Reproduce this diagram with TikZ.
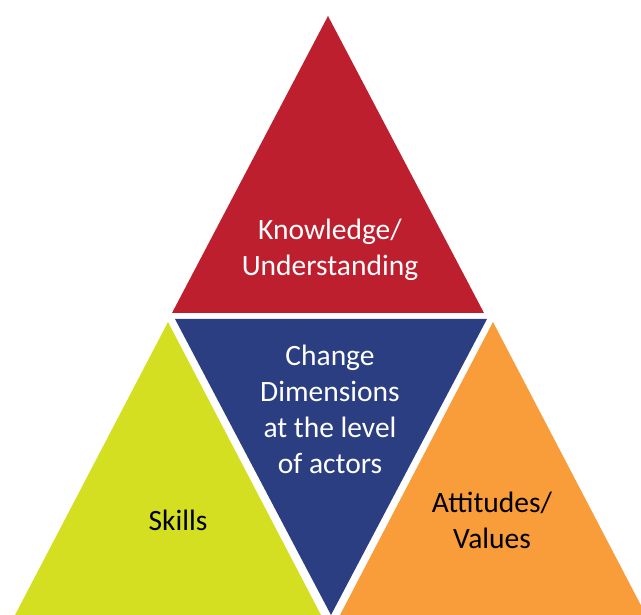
\documentclass[tikz,border=0pt]{standalone}
\usepackage{fontspec}
\setmainfont{Carlito}
\definecolor{tred}{HTML}{BE1F2F}
\definecolor{tblue}{HTML}{2B3E82}
\definecolor{tyellow}{HTML}{D5DF21}
\definecolor{torange}{HTML}{F99C3A}
\begin{document}
\begin{tikzpicture}[x=1pt,y=-1pt,
  lbl/.style={align=center,font=\fontsize{29.5}{36}\selectfont,inner sep=0pt}]
\useasboundingbox (0,0) rectangle (641,615);
\clip (0,0) rectangle (641,615);
\fill[tred] (328,16) -- (172,313) -- (484,313) -- cycle;
\fill[tblue] (175,319) -- (487,319) -- (331,615) -- cycle;
\fill[tyellow] (168,322) -- (15,615) -- (321,615) -- cycle;
\fill[torange] (493,322) -- (340,615) -- (646,615) -- cycle;
\node[lbl,text=white] (know) at (330,250) {Knowledge/\\Understanding};
\node[lbl,text=white] (change) at (330,409) {Change\\Dimensions\\at the level\\of actors};
\node[lbl,text=black] (skills) at (178,520) {Skills};
\node[lbl,text=black] (att) at (492,520) {Attitudes/\\Values};
\end{tikzpicture}
\end{document}
